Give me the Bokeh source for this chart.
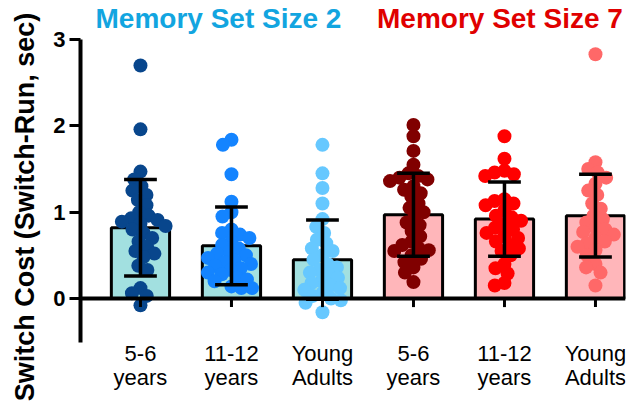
import math

from bokeh.core.properties import value
from bokeh.embed import file_html
from bokeh.models import FixedTicker, Label, Range1d, Span
from bokeh.plotting import figure
from bokeh.resources import INLINE

# ---- data -----------------------------------------------------------------
age_labels = ["5-6\nyears", "11-12\nyears", "Young\nAdults",
              "5-6\nyears", "11-12\nyears", "Young\nAdults"]
set_titles = ["Memory Set Size 2", "Memory Set Size 7"]

group_means = [0.82, 0.61, 0.45, 0.97, 0.92, 0.96]
group_sds = [0.56, 0.45, 0.46, 0.48, 0.43, 0.48]

kids56_set2 = [2.70, 1.96, 1.47, 1.38, 1.30, 1.25, 1.20, 1.14, 1.08, 1.00,
               0.96, 0.93, 0.91, 0.89, 0.87, 0.84, 0.80, 0.76,
               0.70, 0.66, 0.60, 0.55, 0.52, 0.48, 0.38, 0.33, 0.12, 0.06,
               0.03, -0.08]
kids1112_set2 = [1.84, 1.78, 1.44, 1.12, 1.00, 0.95, 0.80, 0.76, 0.74, 0.70,
                 0.66, 0.62, 0.58, 0.54, 0.52, 0.50, 0.47, 0.44, 0.42, 0.40,
                 0.38, 0.35, 0.33, 0.30, 0.28, 0.24, 0.22, 0.20, 0.14, 0.12,
                 0.12]
adults_set2 = [1.78, 1.45, 1.28, 1.10, 0.92, 0.83, 0.76, 0.68, 0.64, 0.58,
               0.55, 0.50, 0.45, 0.40, 0.36, 0.33, 0.30, 0.28, 0.24, 0.20,
               0.18, 0.15, 0.12, 0.10, 0.06, 0.03, 0.00, -0.02, -0.05, -0.16]
kids56_set7 = [2.01, 1.88, 1.71, 1.55, 1.45, 1.42, 1.40, 1.38, 1.36, 1.30,
               1.26, 1.22, 1.18, 1.10, 1.05, 1.00, 0.95, 0.88, 0.85, 0.78,
               0.72, 0.66, 0.62, 0.58, 0.56, 0.55, 0.50, 0.46, 0.42, 0.36,
               0.30, 0.19]
kids1112_set7 = [1.88, 1.62, 1.48, 1.46, 1.44, 1.42, 1.15, 1.13, 1.10, 1.08,
                 1.02, 0.96, 0.94, 0.90, 0.86, 0.82, 0.80, 0.76, 0.72, 0.70,
                 0.66, 0.62, 0.58, 0.55, 0.50, 0.40, 0.35, 0.29, 0.18, 0.15]
adults_set7 = [2.83, 1.58, 1.50, 1.46, 1.40, 1.33, 1.25, 1.20, 1.10, 1.04,
               0.96, 0.92, 0.88, 0.82, 0.80, 0.77, 0.74, 0.70, 0.66, 0.64,
               0.60, 0.56, 0.50, 0.40, 0.36, 0.30, 0.15]

groups = [kids56_set2, kids1112_set2, adults_set2,
          kids56_set7, kids1112_set7, adults_set7]

# ---- styling --------------------------------------------------------------
dot_colors = ["#08468c", "#1484ff", "#66c8ff", "#800000", "#ff0000", "#ff6868"]
bar_colors = ["#a2e0e0"] * 3 + ["#ffb6ba"] * 3
title_colors = ["#12a5e0", "#e00000"]
FONT = "Liberation Sans"

PX_X = 91.0    # pixels per category step
PX_Y = 86.3    # pixels per second
DOT = 14       # marker diameter in pixels


def swarm_offsets(vals, dist=10.0):
    """Beeswarm layout: smallest sideways shift that keeps dots `dist` px apart."""
    order = sorted(range(len(vals)), key=lambda i: -vals[i])
    placed = []
    offsets = [0.0] * len(vals)
    for i in order:
        y = vals[i] * PX_Y
        cands = [0.0]
        for xj, yj in placed:
            dy = abs(y - yj)
            if dy < dist:
                w = math.sqrt(dist * dist - dy * dy)
                cands += [xj - w, xj + w]
        cands.sort(key=lambda c: (abs(c), c))
        for c in cands:
            if all((c - xj) ** 2 + (y - yj) ** 2 >= dist * dist - 1e-6
                   for xj, yj in placed):
                break
        placed.append((c, y))
        offsets[i] = c / PX_X
    return offsets


xs = list(range(len(groups)))

# the frame spans the full canvas height so headings and category labels can
# be drawn inside it; the y axis line itself is bounded to -0.5..3
p = figure(width=644, height=413, output_backend="svg", toolbar_location=None,
           x_range=Range1d(-0.659, 5.33), y_range=Range1d(-1.333, 3.453),
           min_border_left=80, min_border_right=19,
           min_border_top=0, min_border_bottom=0)
p.outline_line_color = None
p.xgrid.visible = False
p.ygrid.visible = False
p.xaxis.visible = False
p.background_fill_color = "white"
p.border_fill_color = "white"

# bars
p.vbar(x=xs, top=group_means, bottom=0, width=0.64, fill_color=bar_colors,
       line_color="black", line_width=3)

# individual participants
for gx, vals, col in zip(xs, groups, dot_colors):
    offs = swarm_offsets(vals)
    p.scatter(x=[gx + o for o in offs], y=vals, size=DOT,
              fill_color=col, line_color=None)

# error bars (mean +/- SD)
lo = [m - s for m, s in zip(group_means, group_sds)]
hi = [m + s for m, s in zip(group_means, group_sds)]
p.segment(x0=xs, y0=lo, x1=xs, y1=hi, line_color="black", line_width=3.5)
cap = 0.18
p.segment(x0=[x - cap for x in xs], y0=hi, x1=[x + cap for x in xs], y1=hi,
          line_color="black", line_width=3.5)
p.segment(x0=[x - cap for x in xs], y0=lo, x1=[x + cap for x in xs], y1=lo,
          line_color="black", line_width=3.5)

# baseline at zero with category ticks hanging below it
p.add_layout(Span(location=0, dimension="width", line_color="black",
                  line_width=4))
p.segment(x0=xs, y0=[0] * len(xs), x1=xs, y1=[-0.1] * len(xs),
          line_color="black", line_width=3)

# two-line category labels under the baseline
first_lines = [lab.split("\n")[0] for lab in age_labels]
second_lines = [lab.split("\n")[1] for lab in age_labels]
for row, texts in zip([-0.637, -0.92], [first_lines, second_lines]):
    p.text(x=xs, y=[row] * len(xs), text=texts, text_align="center",
           text_baseline="middle", text_font=value(FONT),
           text_font_size="22px", text_color="black")

# y axis
p.yaxis.ticker = FixedTicker(ticks=[0, 1, 2, 3])
p.yaxis.bounds = (-0.51, 3.0)
p.yaxis.axis_label = "Switch Cost (Switch-Run, sec)"
p.yaxis.axis_label_text_font = FONT
p.yaxis.axis_label_text_font_style = "bold"
p.yaxis.axis_label_text_font_size = "27px"
p.yaxis.axis_label_text_color = "black"
p.yaxis.axis_label_standoff = 10
p.yaxis.axis_line_width = 4
p.yaxis.axis_line_color = "black"
p.yaxis.major_tick_line_width = 3
p.yaxis.major_tick_out = 11
p.yaxis.major_tick_in = 0
p.yaxis.minor_tick_line_color = None
p.yaxis.major_label_text_font = FONT
p.yaxis.major_label_text_font_style = "bold"
p.yaxis.major_label_text_font_size = "22px"
p.yaxis.major_label_text_color = "black"
p.yaxis.major_label_standoff = 4

# section headings above the two halves
for tx, txt, col in zip([0.857, 3.95], set_titles, title_colors):
    p.add_layout(Label(x=tx, y=3.245, text=txt, text_align="center",
                       text_baseline="middle", text_color=col,
                       text_font=FONT, text_font_style="bold",
                       text_font_size="28px"))

open("out.html", "w").write(file_html(p, INLINE))
